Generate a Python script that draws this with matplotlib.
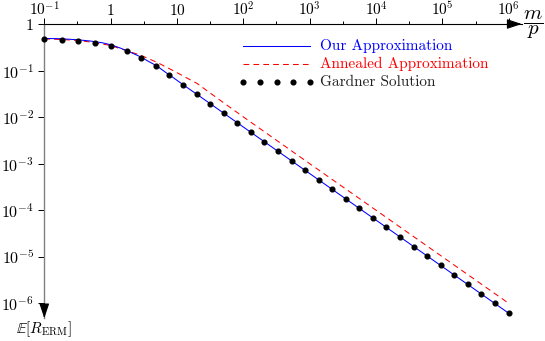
import matplotlib
matplotlib.use('Agg')
import matplotlib.pyplot as plt
from matplotlib.lines import Line2D

plt.rcParams['font.family'] = 'serif'
plt.rcParams['font.serif'] = ['cmr10']
plt.rcParams['mathtext.fontset'] = 'cm'
plt.rcParams['axes.formatter.use_mathtext'] = True

# Gardner solution (dots)
gardner_x = [0.1, 0.1824, 0.322, 0.573, 1.0, 1.734, 2.917, 4.81, 7.71, 12.39,
             19.95, 32.0, 50.8, 81.5, 129.7, 208, 334, 537, 861, 1371,
             2198, 3532, 5598, 9016, 14290, 22960, 36980, 58610, 94190, 151000,
             240400, 385500, 619400, 1000000]
gardner_y = [0.475, 0.459, 0.437, 0.396, 0.336, 0.262, 0.188, 0.123, 0.0789, 0.0495,
             0.0308, 0.0192, 0.01208, 0.00753, 0.00473, 0.00295, 0.00184, 0.001143, 0.000713, 0.000448,
             0.000279, 0.000174, 0.0001096, 6.81e-5, 4.30e-5, 2.67e-5, 1.66e-5, 1.047e-5, 6.52e-6, 4.06e-6,
             2.55e-6, 1.59e-6, 9.91e-7, 6.17e-7]

# our approximation (blue line)
ours_x = [0.1, 0.18, 0.32, 0.5, 0.75, 1.0, 1.35, 1.76, 2.3, 2.8, 3.7, 5.0, 7.0, 8.85,
          12.4, 20, 50, 100, 1e3, 1e4, 1e5, 1e6]
ours_y = [0.49, 0.482, 0.458, 0.43, 0.395, 0.358, 0.31, 0.267, 0.225, 0.198, 0.158, 0.125,
          0.088, 0.070, 0.0495, 0.0308, 0.0123, 0.00613, 6.13e-4, 6.13e-5, 6.13e-6, 6.13e-7]

# annealed approximation (red dashed)
annealed_x = [0.1, 0.18, 0.32, 0.57, 1.0, 1.76, 2.8, 5.0, 8.85, 20, 50, 100,
              1e3, 1e4, 1e5, 1e6]
annealed_y = [0.478, 0.465, 0.443, 0.40, 0.345, 0.265, 0.215, 0.150, 0.099, 0.053, 0.0205, 0.0101,
              1e-3, 1e-4, 1e-5, 1e-6]

x_ticks = [1e-1, 1, 10, 1e2, 1e3, 1e4, 1e5, 1e6]
x_labels = [r'$10^{-1}$', r'$1$', r'$10$', r'$10^{2}$', r'$10^{3}$', r'$10^{4}$', r'$10^{5}$', r'$10^{6}$']
x_minor = [10 ** (k + 0.5) for k in range(-1, 6)]
y_ticks = [1, 1e-1, 1e-2, 1e-3, 1e-4, 1e-5, 1e-6]
y_labels = [r'$1$', r'$10^{-1}$', r'$10^{-2}$', r'$10^{-3}$', r'$10^{-4}$', r'$10^{-5}$', r'$10^{-6}$']

W, H = 545, 341
fig = plt.figure(figsize=(W / 100, H / 100), dpi=100)
ax = fig.add_axes([44.3 / W, 1 - 318.3 / H, (521.7 - 44.3) / W, (318.3 - 24) / H])
ax.set_xscale('log')
ax.set_yscale('log')
ax.set_xlim(0.1, 10 ** 6.196)
ax.set_ylim(10 ** -6.322, 1)

ax.plot(ours_x, ours_y, color='blue', lw=0.75, zorder=3)
ax.plot(annealed_x, annealed_y, color='red', lw=0.75, dashes=(5.5, 4), zorder=2)
ax.plot(gardner_x, gardner_y, ls='none', marker='o', ms=3.4, color='black', zorder=4, clip_on=False)

for s in ['right', 'bottom']:
    ax.spines[s].set_visible(False)
ax.spines['top'].set_color('black')
ax.spines['top'].set_linewidth(0.8)
ax.spines['left'].set_color('#808080')
ax.spines['left'].set_linewidth(1.0)

ax.xaxis.tick_top()
ax.set_xticks(x_ticks)
ax.set_xticklabels(x_labels)
ax.set_xticks(x_minor, minor=True)
ax.xaxis.set_minor_formatter(plt.NullFormatter())
ax.set_yticks(y_ticks)
ax.set_yticklabels(y_labels)
ax.yaxis.set_minor_locator(plt.NullLocator())
ax.tick_params(axis='x', which='major', direction='out', length=4, width=0.7, pad=0, labelsize=11)
ax.tick_params(axis='x', which='minor', direction='out', length=2.2, width=0.7)
ax.tick_params(axis='y', which='major', direction='out', length=4.5, width=0.7, pad=3, labelsize=11.5)

# arrow heads
ax.annotate('', xy=(1.0, 1.0), xytext=(0.97, 1.0), xycoords='axes fraction',
            arrowprops=dict(arrowstyle='-|>,head_length=0.9,head_width=0.3', color='black', lw=0.8,
                            shrinkA=0, shrinkB=0))
ax.annotate('', xy=(0.0, 0.0), xytext=(0.0, 0.05), xycoords='axes fraction',
            arrowprops=dict(arrowstyle='-|>,head_length=0.9,head_width=0.3', color='black', lw=0.8,
                            shrinkA=0, shrinkB=0))

fig.text(533 / W, 1 - 25 / H, r'$\dfrac{m}{p}$', fontsize=15, ha='center', va='center')
fig.text(44 / W, 1 - 329 / H, r'$\mathbb{E}[R_{\mathrm{ERM}}]$', fontsize=11, ha='center', va='center')

# legend, drawn by hand
leg_rows = [('Our Approximation', 'blue', dict(color='blue', lw=0.75)),
            ('Annealed Approximation', 'red', dict(color='red', lw=0.75, dashes=(5.5, 4))),
            ('Gardner Solution', '#222222', None)]
for i, (label, tcol, style) in enumerate(leg_rows):
    yy = 1 - (46 + 18 * i) / H
    if style is None:
        xs = [(243.3 + 16.67 * k) / W for k in range(5)]
        fig.add_artist(Line2D(xs, [yy] * 5, transform=fig.transFigure, ls='none',
                              marker='o', ms=3.4, color='black'))
    else:
        fig.add_artist(Line2D([243 / W, 310 / W], [yy, yy], transform=fig.transFigure, **style))
    fig.text(320 / W, yy, label, color=tcol, fontsize=11, ha='left', va='center')

fig.savefig('out.png', dpi=100)
